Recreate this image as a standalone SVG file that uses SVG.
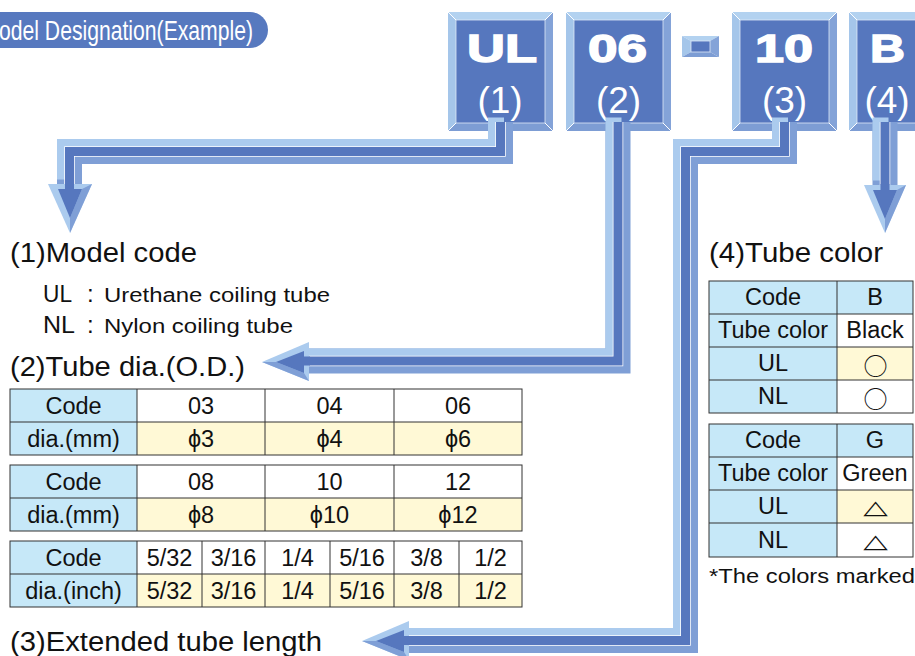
<svg xmlns="http://www.w3.org/2000/svg" xmlns:xlink="http://www.w3.org/1999/xlink" width="915" height="656" viewBox="0 0 915 656">
<style>
  text { font-family: "Liberation Sans", Arial, sans-serif; fill: #111; }
  .pill { fill: #5779bf; }
  .pilltxt { fill: #fff; font-size: 28px; }
  .boxbig { fill: #fff; stroke: #fff; stroke-width: 1.4; font-size: 38px; font-weight: bold; text-anchor: middle; }
  .boxnum { fill: #fff; font-size: 37px; text-anchor: middle; }
  .bt { fill: #b3d2f0; } .bl { fill: #a5c6ea; } .br { fill: #84a3d8; } .bb { fill: #7d9dd4; }
  .bi { fill: #5677be; stroke: #dfe9f7; stroke-width: 0.8; }
  .miter { stroke: #fff; stroke-width: 1; }
  .pm { fill: none; stroke: #7f9fd6; stroke-width: 25; stroke-linejoin: miter; }
  .pl { fill: none; stroke: #abcbee; stroke-width: 16; stroke-linejoin: miter; }
  .pw { fill: none; stroke: #fff; stroke-width: 10.5; stroke-linejoin: miter; }
  .pd { fill: none; stroke: #5677be; stroke-width: 9; stroke-linejoin: miter; }
  .hl { fill: #abcbee; } .hm { fill: #7f9fd6; } .hd { fill: #5677be; }
  .h1 { font-size: 27px; }
  .code { font-size: 24px; }
  .desc { font-size: 20px; }
  .hdr { fill: #c6e8f8; }
  .yel { fill: #fff9d6; }
  .wht { fill: #fff; }
  .grid { fill: none; stroke: #333; stroke-width: 1; }
  .tt { font-size: 23.5px; text-anchor: middle; }
  .circ { font-family: "Noto Sans CJK JP", "DejaVu Sans", sans-serif; font-size: 24px; text-anchor: middle; }
  .tri { font-family: "DejaVu Sans", sans-serif; font-size: 32px; text-anchor: middle; }
</style>
<defs>
  <g id="bevbox">
    <polygon class="bt" points="0,0 105,0 97,8 8,8"/>
    <polygon class="bl" points="0,0 8,8 8,111 0,119"/>
    <polygon class="br" points="105,0 105,119 97,111 97,8"/>
    <polygon class="bb" points="0,119 105,119 97,111 8,111"/>
    <rect class="bi" x="8" y="8" width="89" height="103"/>
    <line class="miter" x1="0" y1="0" x2="8" y2="8"/>
    <line class="miter" x1="105" y1="0" x2="97" y2="8"/>
    <line class="miter" x1="0" y1="119" x2="8" y2="111"/>
    <line class="miter" x1="105" y1="119" x2="97" y2="111"/>
  </g>
  <path id="p1" d="M500.5 122 V151.5 H69.5 V184"/>
  <path id="p2" d="M618 122 V361 H309"/>
  <path id="p3" d="M784.5 122 V151.5 H685.5 V640.5 H409"/>
  <path id="p4" d="M885 122 V185"/>
</defs>

<!-- title pill -->
<g id="title">
  <path class="pill" d="M-10 12 H250 A18 18 0 0 1 250 48 H-10 Z"/>
  <text class="pilltxt" x="-1" y="40" textLength="254" lengthAdjust="spacingAndGlyphs">odel Designation(Example)</text>
</g>

<!-- code boxes -->
<g id="box-UL" transform="translate(448,12)">
  <use xlink:href="#bevbox"/>
  <text class="boxbig" x="54" y="50" textLength="70" lengthAdjust="spacingAndGlyphs">UL</text>
  <text class="boxnum" x="52" y="101">(1)</text>
</g>
<g id="box-06" transform="translate(566,12)">
  <use xlink:href="#bevbox"/>
  <text class="boxbig" x="51.5" y="50" textLength="59" lengthAdjust="spacingAndGlyphs">06</text>
  <text class="boxnum" x="52.5" y="101">(2)</text>
</g>
<g id="dash">
  <polygon class="bt" points="682,36 719,36 710,41 691,41"/>
  <polygon class="bl" points="682,36 691,41 691,52 682,57"/>
  <polygon class="br" points="719,36 719,57 710,52 710,41"/>
  <polygon class="bb" points="682,57 719,57 710,52 691,52"/>
  <rect class="bi" x="691" y="41" width="19" height="11"/>
</g>
<g id="box-10" transform="translate(732,12)">
  <use xlink:href="#bevbox"/>
  <text class="boxbig" x="52" y="50" textLength="58" lengthAdjust="spacingAndGlyphs">10</text>
  <text class="boxnum" x="52.5" y="101">(3)</text>
</g>
<g id="box-B" transform="translate(849,12)">
  <use xlink:href="#bevbox"/>
  <text class="boxbig" x="38.5" y="50" textLength="35" lengthAdjust="spacingAndGlyphs">B</text>
  <text class="boxnum" x="38" y="101">(4)</text>
</g>

<!-- connectors -->
<g id="connectors">
  <polygon class="hl" points="48,184 92,184 70,233"/>
  <polygon class="hm" points="92,184 70,233 70,218 82,189"/>
  <polygon class="hd" points="58,189 82,189 70,218"/>

  <polygon class="hl" points="262,362 309,342 309,381"/>
  <polygon class="hm" points="262,362 309,381 304,373 276,362"/>
  <polygon class="hd" points="276,362 304,351 304,373"/>

  <polygon class="hl" points="362,641 409,621 409,660"/>
  <polygon class="hm" points="362,641 409,660 404,652 376,641"/>
  <polygon class="hd" points="376,641 404,630 404,652"/>

  <polygon class="hl" points="864,185 906,185 885,233"/>
  <polygon class="hm" points="906,185 885,233 885,219 897,190"/>
  <polygon class="hd" points="873,190 897,190 885,219"/>

  <use xlink:href="#p1" class="pm"/>
  <use xlink:href="#p1" class="pl" transform="translate(-4.5,-4.5)"/>
  <use xlink:href="#p1" class="pw"/>
  <use xlink:href="#p1" class="pd"/>

  <use xlink:href="#p2" class="pm"/>
  <use xlink:href="#p2" class="pl" transform="translate(-4.5,-4.5)"/>
  <use xlink:href="#p2" class="pw"/>
  <use xlink:href="#p2" class="pd"/>

  <use xlink:href="#p3" class="pm"/>
  <use xlink:href="#p3" class="pl" transform="translate(-4.5,-4.5)"/>
  <use xlink:href="#p3" class="pw"/>
  <use xlink:href="#p3" class="pd"/>

  <use xlink:href="#p4" class="pm"/>
  <use xlink:href="#p4" class="pl" transform="translate(-4.5,-4.5)"/>
  <use xlink:href="#p4" class="pw"/>
  <use xlink:href="#p4" class="pd"/>

  <rect class="hd" x="65" y="183" width="9" height="7"/>
  <rect class="hd" x="303" y="356.5" width="7" height="9"/>
  <rect class="hd" x="403" y="636" width="7" height="9"/>
  <rect class="hd" x="880.5" y="184" width="9" height="7"/>
</g>

<!-- (1) model code -->
<g id="sec1">
  <text class="h1" x="10" y="262" textLength="187" lengthAdjust="spacingAndGlyphs">(1)Model code</text>
  <text class="code" x="43" y="302" textLength="29" lengthAdjust="spacingAndGlyphs">UL</text>
  <text class="code" x="87" y="302">:</text>
  <text class="desc" x="104" y="302" textLength="226" lengthAdjust="spacingAndGlyphs">Urethane coiling tube</text>
  <text class="code" x="43" y="333" textLength="32" lengthAdjust="spacingAndGlyphs">NL</text>
  <text class="code" x="87" y="333">:</text>
  <text class="desc" x="104" y="333" textLength="189" lengthAdjust="spacingAndGlyphs">Nylon coiling tube</text>
</g>

<!-- (2) tube dia -->
<g id="sec2">
  <text class="h1" x="10" y="376" textLength="235" lengthAdjust="spacingAndGlyphs">(2)Tube dia.(O.D.)</text>
</g>

<g id="table-mm1">
  <rect class="hdr" x="10" y="389" width="127" height="66"/>
  <rect class="wht" x="137" y="389" width="385" height="33"/>
  <rect class="yel" x="137" y="422" width="385" height="33"/>
  <rect class="grid" x="10" y="389" width="512" height="66"/>
  <path class="grid" d="M10 422 H522 M137 389 V455 M265 389 V455 M394 389 V455"/>
  <text class="tt" x="73.5" y="414">Code</text>
  <text class="tt" x="73.5" y="447">dia.(mm)</text>
  <text class="tt" x="201" y="414">03</text>
  <text class="tt" x="329.5" y="414">04</text>
  <text class="tt" x="458" y="414">06</text>
  <text class="tt" x="201" y="447">ϕ3</text>
  <text class="tt" x="329.5" y="447">ϕ4</text>
  <text class="tt" x="458" y="447">ϕ6</text>
</g>

<g id="table-mm2">
  <rect class="hdr" x="10" y="465" width="127" height="66"/>
  <rect class="wht" x="137" y="465" width="385" height="33"/>
  <rect class="yel" x="137" y="498" width="385" height="33"/>
  <rect class="grid" x="10" y="465" width="512" height="66"/>
  <path class="grid" d="M10 498 H522 M137 465 V531 M265 465 V531 M394 465 V531"/>
  <text class="tt" x="73.5" y="490">Code</text>
  <text class="tt" x="73.5" y="523">dia.(mm)</text>
  <text class="tt" x="201" y="490">08</text>
  <text class="tt" x="329.5" y="490">10</text>
  <text class="tt" x="458" y="490">12</text>
  <text class="tt" x="201" y="523">ϕ8</text>
  <text class="tt" x="329.5" y="523">ϕ10</text>
  <text class="tt" x="458" y="523">ϕ12</text>
</g>

<g id="table-inch">
  <rect class="hdr" x="10" y="541" width="127" height="66"/>
  <rect class="wht" x="137" y="541" width="385" height="33"/>
  <rect class="yel" x="137" y="574" width="385" height="33"/>
  <rect class="grid" x="10" y="541" width="512" height="66"/>
  <path class="grid" d="M10 574 H522 M137 541 V607 M202 541 V607 M265 541 V607 M330 541 V607 M394 541 V607 M459 541 V607"/>
  <text class="tt" x="73.5" y="566">Code</text>
  <text class="tt" x="73.5" y="599">dia.(inch)</text>
  <text class="tt" x="169.5" y="566">5/32</text>
  <text class="tt" x="233.5" y="566">3/16</text>
  <text class="tt" x="297.5" y="566">1/4</text>
  <text class="tt" x="362" y="566">5/16</text>
  <text class="tt" x="426.5" y="566">3/8</text>
  <text class="tt" x="490.5" y="566">1/2</text>
  <text class="tt" x="169.5" y="599">5/32</text>
  <text class="tt" x="233.5" y="599">3/16</text>
  <text class="tt" x="297.5" y="599">1/4</text>
  <text class="tt" x="362" y="599">5/16</text>
  <text class="tt" x="426.5" y="599">3/8</text>
  <text class="tt" x="490.5" y="599">1/2</text>
</g>

<!-- (3) -->
<g id="sec3">
  <text class="h1" x="10" y="651" textLength="312" lengthAdjust="spacingAndGlyphs">(3)Extended tube length</text>
</g>

<!-- (4) -->
<g id="sec4">
  <text class="h1" x="709" y="262" textLength="174" lengthAdjust="spacingAndGlyphs">(4)Tube color</text>
</g>

<g id="table-color-B">
  <rect class="hdr" x="709" y="281" width="128" height="132"/>
  <rect class="hdr" x="837" y="281" width="76" height="33"/>
  <rect class="wht" x="837" y="314" width="76" height="33"/>
  <rect class="yel" x="837" y="347" width="76" height="33"/>
  <rect class="wht" x="837" y="380" width="76" height="33"/>
  <rect class="grid" x="709" y="281" width="204" height="132"/>
  <path class="grid" d="M709 314 H913 M709 347 H913 M709 380 H913 M837 281 V413"/>
  <text class="tt" x="773" y="305">Code</text>
  <text class="tt" x="773" y="338">Tube color</text>
  <text class="tt" x="773" y="371">UL</text>
  <text class="tt" x="773" y="404">NL</text>
  <text class="tt" x="875" y="305">B</text>
  <text class="tt" x="875" y="338">Black</text>
  <text class="circ" x="875.5" y="374.5">○</text>
  <text class="circ" x="875.5" y="407.5">○</text>
</g>

<g id="table-color-G">
  <rect class="hdr" x="709" y="424" width="128" height="133"/>
  <rect class="hdr" x="837" y="424" width="76" height="33"/>
  <rect class="wht" x="837" y="457" width="76" height="33"/>
  <rect class="yel" x="837" y="490" width="76" height="33"/>
  <rect class="wht" x="837" y="523" width="76" height="34"/>
  <rect class="grid" x="709" y="424" width="204" height="133"/>
  <path class="grid" d="M709 457 H913 M709 490 H913 M709 523 H913 M837 424 V557"/>
  <text class="tt" x="773" y="448">Code</text>
  <text class="tt" x="773" y="481">Tube color</text>
  <text class="tt" x="773" y="514">UL</text>
  <text class="tt" x="773" y="548">NL</text>
  <text class="tt" x="875" y="448">G</text>
  <text class="tt" x="875" y="481">Green</text>
  <text class="tri" transform="translate(875.5,514) scale(1,0.6)">△</text>
  <text class="tri" transform="translate(875.5,548) scale(1,0.6)">△</text>
</g>

<g id="note">
  <text x="709" y="583" style="font-size:20px" textLength="206" lengthAdjust="spacingAndGlyphs">*The colors marked</text>
</g>
</svg>
